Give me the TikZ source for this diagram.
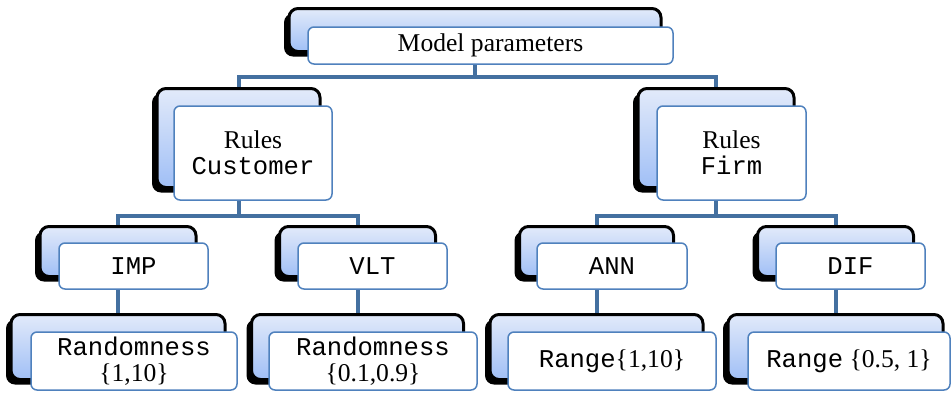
\documentclass[tikz,border=0pt]{standalone}
\usepackage{fontspec}
\setmainfont{Liberation Serif}
\setmonofont{Liberation Mono}
\usetikzlibrary{shadows,backgrounds}
\definecolor{bTop}{RGB}{226,234,250}
\definecolor{bBot}{RGB}{160,191,246}
\definecolor{fBord}{RGB}{79,129,189}
\definecolor{cLine}{RGB}{68,112,160}
\newcommand{\bigtxt}{\fontsize{25.6}{26}\selectfont}
\tikzset{
	backbox/.style={rectangle, rounded corners=9pt, draw=black, line width=3pt, top color=bTop, bottom color=bBot, general shadow={fill=black, shadow xshift=-5pt, shadow yshift=-5pt}},
	frontbox/.style={rectangle, rounded corners=6pt, draw=fBord, line width=1.5pt, fill=white, align=center, inner sep=0pt, font=\bigtxt},
	conn/.style={draw=cLine, line width=4pt}
}
\begin{document}
\begin{tikzpicture}[x=1pt, y=-1pt]
				\useasboundingbox (0,0) rectangle (952,392);
				% top level
				\node[backbox, minimum width=372pt, minimum height=43pt] (mpB)at(475, 30) {};
				\node[frontbox, minimum width=365pt, minimum height=37pt] (mp)at(490.5, 45.5) {Model parameters};
				% second level
				\node[backbox, minimum width=163pt, minimum height=99pt] (custB)at(238.5, 138) {};
				\node[frontbox, minimum width=158pt, minimum height=94pt] (cust)at(253, 153) {Rules\\\texttt{Customer}};
				\node[backbox, minimum width=156pt, minimum height=99pt] (firmB)at(716, 138) {};
				\node[frontbox, minimum width=149pt, minimum height=94pt] (firm)at(731.5, 153) {Rules\\\texttt{Firm}};
				% third level
				\node[backbox, minimum width=156pt, minimum height=50pt] (impB)at(118, 251.5) {};
				\node[frontbox, minimum width=149pt, minimum height=46pt] (imp)at(133.5, 266) {\texttt{IMP}};
				\node[backbox, minimum width=156pt, minimum height=50pt] (vltB)at(357.5, 251.5) {};
				\node[frontbox, minimum width=149pt, minimum height=46pt] (vlt)at(372.5, 266) {\texttt{VLT}};
				\node[backbox, minimum width=154pt, minimum height=50pt] (annB)at(596.5, 251.5) {};
				\node[frontbox, minimum width=150pt, minimum height=46pt] (ann)at(612, 266) {\texttt{ANN}};
				\node[backbox, minimum width=156pt, minimum height=50pt] (difB)at(835.5, 251.5) {};
				\node[frontbox, minimum width=149pt, minimum height=46pt] (dif)at(850.5, 266) {\texttt{DIF}};
				% fourth level
				\node[backbox, minimum width=214pt, minimum height=65pt] (rndIB)at(118, 347) {};
				\node[frontbox, minimum width=206pt, minimum height=58pt] (rndI)at(134, 361) {\texttt{Randomness}\\\{1,10\}};
				\node[backbox, minimum width=212pt, minimum height=65pt] (rndVB)at(357.5, 347) {};
				\node[frontbox, minimum width=208pt, minimum height=58pt] (rndV)at(373, 361) {\texttt{Randomness}\\\{0.1,0.9\}};
				\node[backbox, minimum width=213pt, minimum height=65pt] (rngAB)at(596.5, 347) {};
				\node[frontbox, minimum width=208pt, minimum height=58pt] (rngA)at(612, 361) {\texttt{Range}\{1,10\}};
				\node[backbox, minimum width=215pt, minimum height=65pt] (rngDB)at(835.5, 347) {};
				\node[frontbox, minimum width=202pt, minimum height=58pt] (rngD)at(849, 361) {\texttt{Range} \{0.5, 1\}};
				% connectors
				\begin{scope}[on background layer]
				\draw[conn] (mpB |- mp.south) -- ++(0,12) coordinate (j1);
				\draw[conn] (custB.north) |- (j1) -| (firmB.north);
				\draw[conn] (custB |- cust.south) -- ++(0,15) coordinate (j2);
				\draw[conn] (impB.north) |- (j2) -| (vltB.north);
				\draw[conn] (firmB |- firm.south) -- ++(0,15) coordinate (j3);
				\draw[conn] (annB.north) |- (j3) -| (difB.north);
				\draw[conn] (impB |- imp.south) -- (impB |- rndIB.north);
				\draw[conn] (vltB |- vlt.south) -- (vltB |- rndVB.north);
				\draw[conn] (annB |- ann.south) -- (annB |- rngAB.north);
				\draw[conn] (difB |- dif.south) -- (difB |- rngDB.north);
				\end{scope}
			\end{tikzpicture}
\end{document}
